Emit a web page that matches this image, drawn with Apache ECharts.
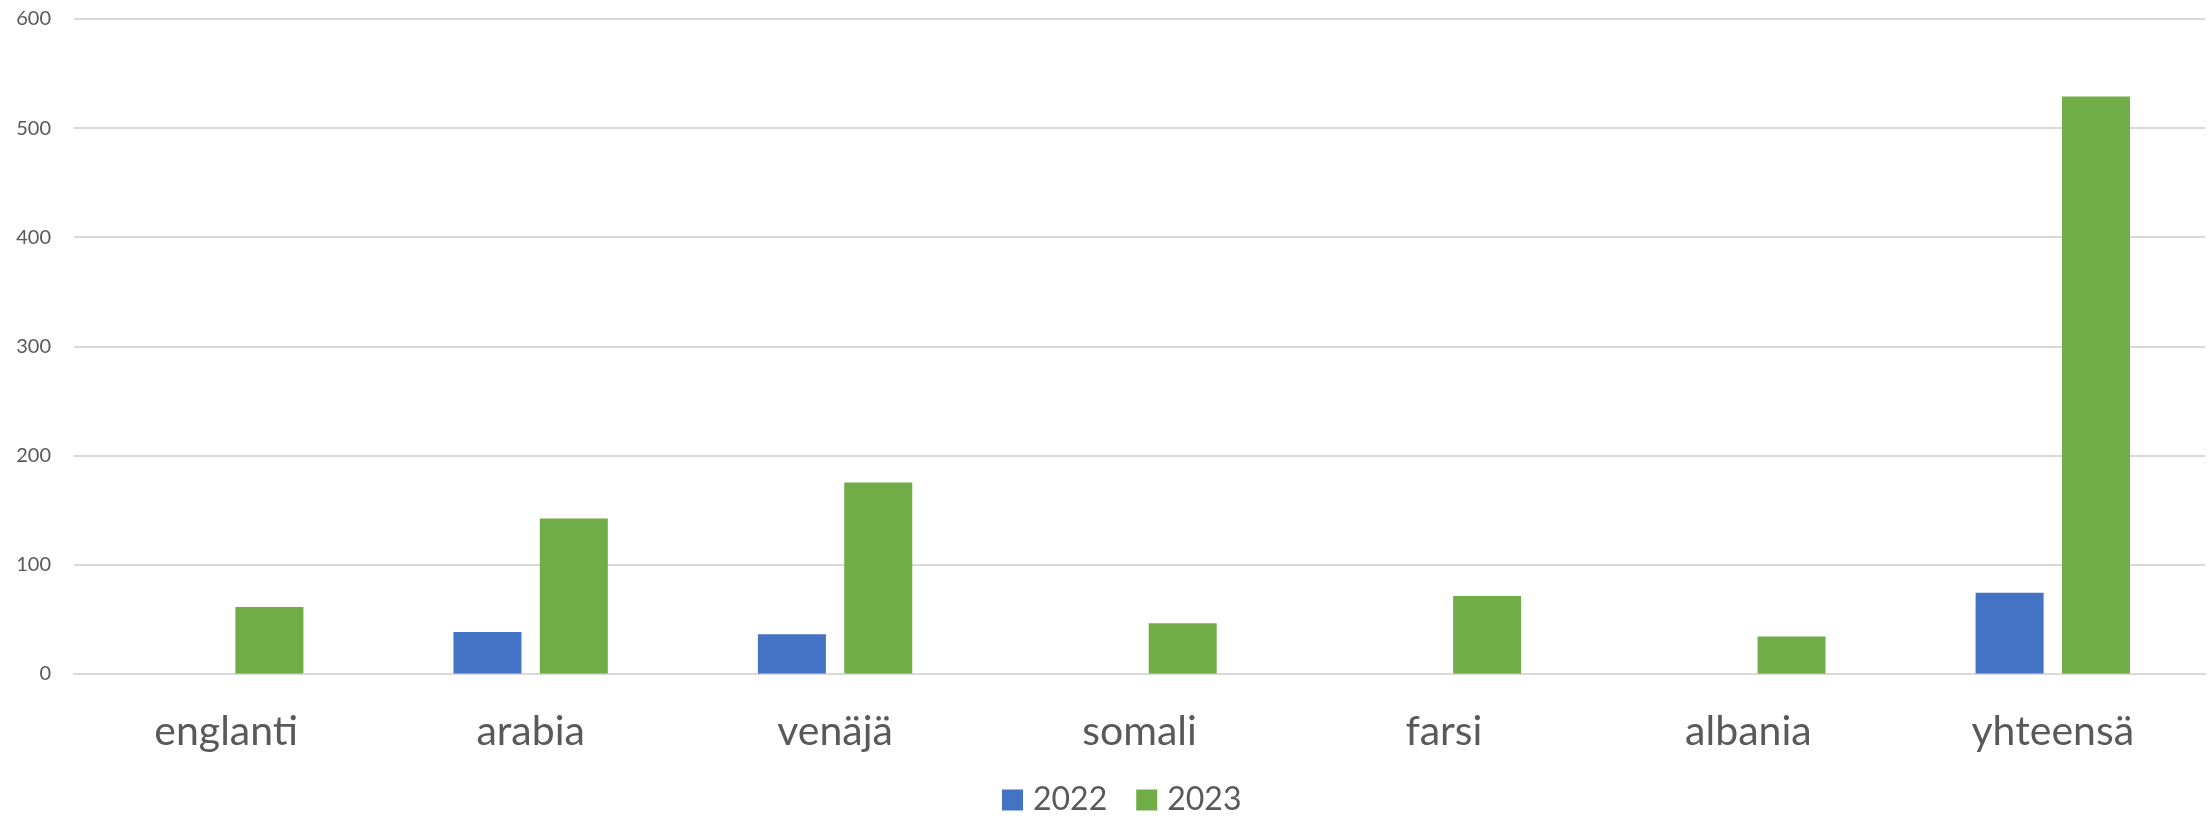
<!DOCTYPE html>
<html>
<head>
<meta charset="utf-8">
<script src="https://cdn.jsdelivr.net/npm/echarts@6/dist/echarts.min.js"></script>
<style>
    html, body { margin: 0; padding: 0; background: #fff; }
    #chart { width: 2211px; height: 816px; }
</style>
</head>
<body>
<div id="chart"></div>
<script>
var categories = ["englanti", "arabia", "venäjä", "somali", "farsi", "albania", "yhteensä"];
var years = ["2022", "2023"];
var values2022 = [0, 38, 36, 0, 0, 0, 74];
var values2023 = [61, 142, 175, 46, 71, 34, 529];
var yTicks = { min: 0, max: 600, interval: 100 };

function renderBars(id) {
    //ryhmitelty pylväskaavio
    var textColor = "#595959";
    var gridColor = "#d9d9d9";
    var font = "Lato";
    var myChart = echarts.init(document.getElementById(id));
    var option = {
        animation: false,
        backgroundColor: "#FFFFFF",
        grid: {
            left: 74,
            right: 6,
            top: 19,
            bottom: 142.5,
            containLabel: false
        },
        legend: {
            data: years,
            left: 997,
            top: 779,
            icon: "rect",
            itemWidth: 21,
            itemHeight: 21,
            itemGap: 29,
            textStyle: {
                color: textColor,
                fontFamily: font,
                fontSize: 32,
                padding: [0, 0, 0, 5]
            }
        },
        xAxis: {
            type: "category",
            data: categories,
            axisTick: { show: false },
            axisLine: {
                lineStyle: { color: gridColor, width: 2 }
            },
            axisLabel: {
                color: textColor,
                fontFamily: font,
                fontSize: 41,
                margin: 38
            }
        },
        yAxis: {
            type: "value",
            min: yTicks.min,
            max: yTicks.max,
            interval: yTicks.interval,
            axisLine: { show: false },
            axisTick: { show: false },
            axisLabel: {
                color: textColor,
                fontFamily: font,
                fontSize: 20,
                margin: 23
            },
            splitLine: {
                show: true,
                lineStyle: { color: gridColor, width: 2 }
            }
        },
        series: [{
            name: years[0],
            type: "bar",
            data: values2022,
            barWidth: 68,
            barGap: "27%",
            itemStyle: { color: "#4472C4" }
        }, {
            name: years[1],
            type: "bar",
            data: values2023,
            barWidth: 68,
            barGap: "27%",
            itemStyle: { color: "#70AD47" }
        }]
    };
    myChart.setOption(option);
}

renderBars("chart");
</script>
</body>
</html>
